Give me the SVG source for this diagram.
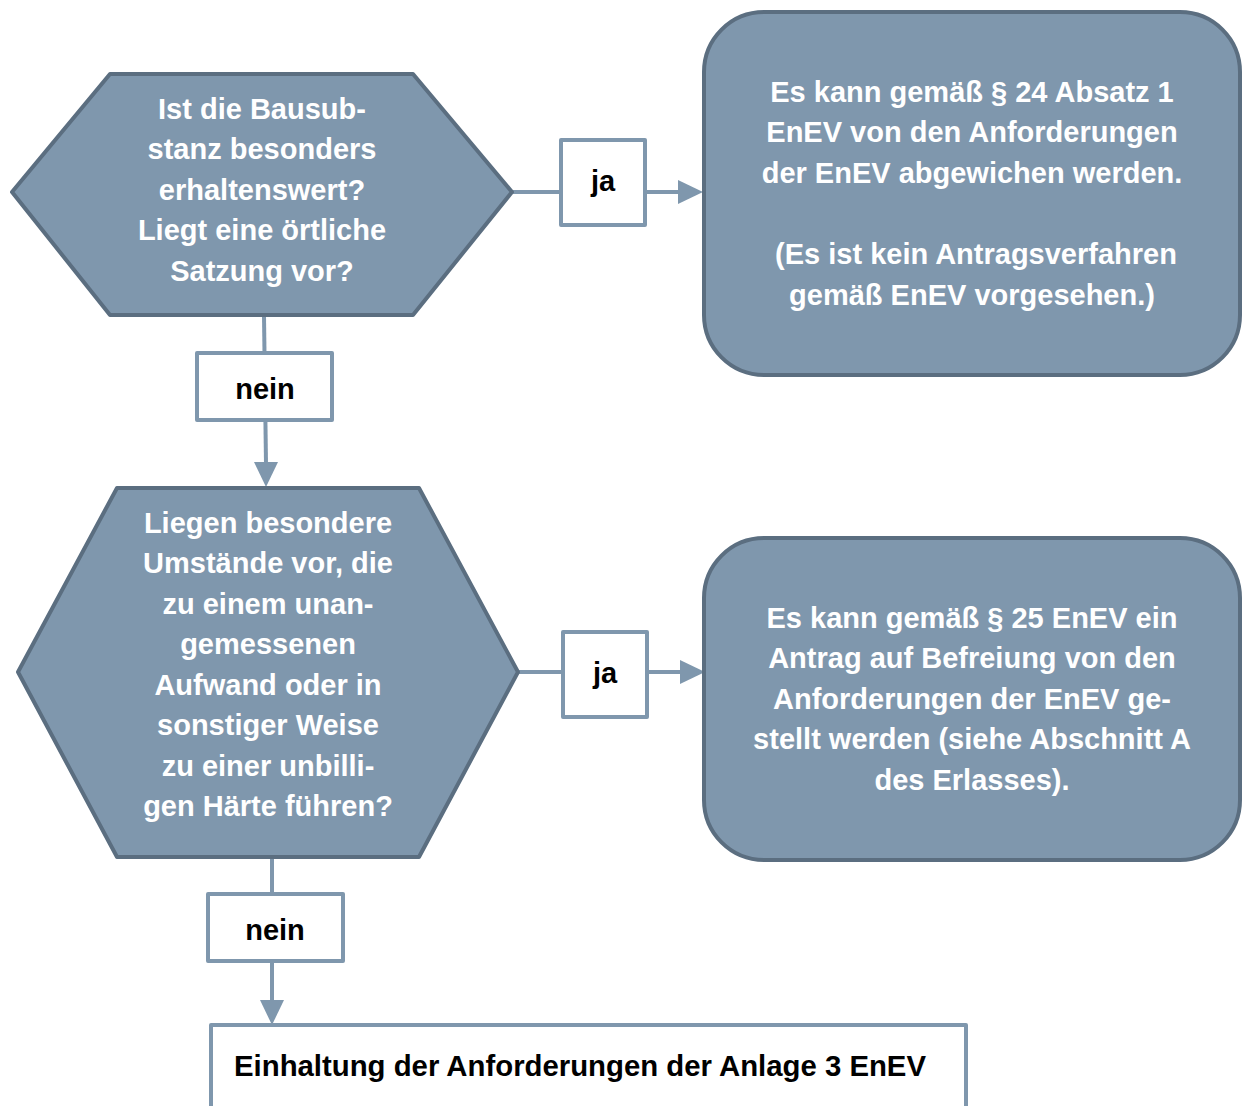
<svg xmlns="http://www.w3.org/2000/svg" width="1242" height="1106" viewBox="0 0 1242 1106">
<defs>
<style>
.shape{fill:#7f97ad;stroke:#5b6e80;stroke-width:4;stroke-linejoin:round}
.lbl{fill:#fff;stroke:#7f97ad;stroke-width:4;stroke-linejoin:round}
.wt{font-family:"Liberation Sans",Arial,sans-serif;font-weight:bold;font-size:29px;fill:#fff;text-anchor:middle}
.bt{font-family:"Liberation Sans",Arial,sans-serif;font-weight:bold;font-size:29px;fill:#000;text-anchor:middle}
.conn{stroke:#7f97ad;stroke-width:4;fill:none}
.head{fill:#7f97ad}
</style>
</defs>
<rect width="1242" height="1106" fill="#fff"/>
<g id="connectors">
<line class="conn" x1="512" y1="192" x2="680" y2="192"/>
<polygon class="head" points="678,180 703,192 678,204"/>
<line class="conn" x1="264" y1="316" x2="266" y2="464"/>
<polygon class="head" points="254,462 266,487 278,462"/>
<line class="conn" x1="518" y1="672" x2="682" y2="672"/>
<polygon class="head" points="680,660 705,672 680,684"/>
<line class="conn" x1="272" y1="857" x2="272" y2="1002"/>
<polygon class="head" points="260,1000 272,1025 284,1000"/>
</g>
<g id="q1">
<polygon class="shape" points="12,192 110,74 413,74 512,192 413,315 110,315"/>
<text class="wt" x="262" y="119">Ist die Bausub-</text>
<text class="wt" x="262" y="159">stanz besonders</text>
<text class="wt" x="262" y="200">erhaltenswert?</text>
<text class="wt" x="262" y="240">Liegt eine örtliche</text>
<text class="wt" x="262" y="281">Satzung vor?</text>
</g>
<g id="ja1">
<rect class="lbl" x="561" y="140" width="84" height="85"/>
<text class="bt" x="603" y="191">ja</text>
</g>
<g id="r1">
<rect class="shape" x="704" y="12" width="536" height="363" rx="60" ry="60"/>
<text class="wt" x="972" y="102">Es kann gemäß § 24 Absatz 1</text>
<text class="wt" x="972" y="142">EnEV von den Anforderungen</text>
<text class="wt" x="972" y="183">der EnEV abgewichen werden.</text>
<text class="wt" x="976" y="264">(Es ist kein Antragsverfahren</text>
<text class="wt" x="972" y="305">gemäß EnEV vorgesehen.)</text>
</g>
<g id="nein1">
<rect class="lbl" x="197" y="353" width="135" height="67"/>
<text class="bt" x="265" y="399">nein</text>
</g>
<g id="q2">
<polygon class="shape" points="18,672 117,488 419,488 518,672 419,857 117,857"/>
<text class="wt" x="268" y="533">Liegen besondere</text>
<text class="wt" x="268" y="573">Umstände vor, die</text>
<text class="wt" x="268" y="614">zu einem unan-</text>
<text class="wt" x="268" y="654">gemessenen</text>
<text class="wt" x="268" y="695">Aufwand oder in</text>
<text class="wt" x="268" y="735">sonstiger Weise</text>
<text class="wt" x="268" y="776">zu einer unbilli-</text>
<text class="wt" x="268" y="816">gen Härte führen?</text>
</g>
<g id="ja2">
<rect class="lbl" x="563" y="632" width="84" height="85"/>
<text class="bt" x="605" y="683">ja</text>
</g>
<g id="r2">
<rect class="shape" x="704" y="538" width="536" height="322" rx="60" ry="60"/>
<text class="wt" x="972" y="628">Es kann gemäß § 25 EnEV ein</text>
<text class="wt" x="972" y="668">Antrag auf Befreiung von den</text>
<text class="wt" x="972" y="709">Anforderungen der EnEV ge-</text>
<text class="wt" x="972" y="749">stellt werden (siehe Abschnitt A</text>
<text class="wt" x="972" y="790">des Erlasses).</text>
</g>
<g id="nein2">
<rect class="lbl" x="208" y="894" width="135" height="67"/>
<text class="bt" x="275" y="940">nein</text>
</g>
<g id="end">
<rect class="lbl" x="211" y="1025" width="755" height="100"/>
<text class="bt" x="234" y="1076" style="text-anchor:start" textLength="692" lengthAdjust="spacingAndGlyphs">Einhaltung der Anforderungen der Anlage 3 EnEV</text>
</g>
</svg>
